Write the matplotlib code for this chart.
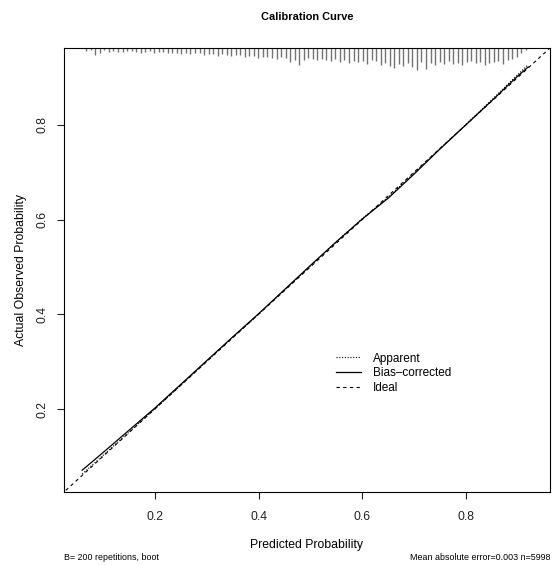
import numpy as np
import matplotlib
matplotlib.use("Agg")
import matplotlib.pyplot as plt

plt.rcParams['font.family'] = ['Liberation Sans', 'DejaVu Sans']

# calibration curves
pred = [0.06, 0.10, 0.15, 0.20, 0.25, 0.30, 0.35, 0.40, 0.45, 0.50,
        0.55, 0.60, 0.65, 0.70, 0.75, 0.80, 0.85, 0.90, 0.92]
bias_corrected = [0.071, 0.108, 0.155, 0.202, 0.252, 0.302, 0.352, 0.401, 0.452, 0.503,
                  0.553, 0.601, 0.645, 0.696, 0.749, 0.800, 0.851, 0.903, 0.922]
apparent = [0.063, 0.102, 0.151, 0.200, 0.250, 0.301, 0.351, 0.400, 0.451, 0.502,
            0.553, 0.602, 0.647, 0.698, 0.750, 0.801, 0.853, 0.906, 0.927]

# histogram spikes of predicted probabilities along the top axis
rug_lo, rug_hi = 0.068, 0.915
rug_freq = [3, 2, 7, 5, 2, 4, 3, 4, 4, 3,
            3, 4, 5, 4, 3, 5, 4, 4, 5, 5,
            5, 6, 5, 6, 5, 5, 7, 6, 6, 8,
            6, 7, 8, 7, 7, 9, 8, 8, 10, 9,
            9, 10, 11, 9, 10, 14, 12, 17, 12, 10,
            11, 12, 11, 12, 13, 11, 14, 12, 15, 13,
            14, 13, 16, 12, 13, 17, 15, 18, 20, 16,
            18, 15, 19, 22, 14, 21, 15, 17, 14, 16,
            13, 16, 15, 17, 14, 13, 15, 14, 17, 15,
            14, 13, 16, 12, 11, 9, 5, 2]

xticks = [0.2, 0.4, 0.6, 0.8]
lim = (0.025, 0.962)

fig = plt.figure(figsize=(5.52, 5.65), dpi=100)
ax = fig.add_axes([64 / 552, 73 / 565, 486 / 552, 444 / 565])

# rug spikes
rug_x = np.linspace(rug_lo, rug_hi, len(rug_freq))
spike = np.array(rug_freq) / 475.0
ax.vlines(rug_x, lim[1] - spike, lim[1], color='#727272', linewidth=1.0)

# ideal line
ax.plot([0, 1], [0, 1], linestyle=(0, (3, 3)), color='black', linewidth=0.8, label='Ideal')
ax.plot(pred, apparent, linestyle=(0, (1, 1.5)), color='black', linewidth=0.8, label='Apparent')
ax.plot(pred, bias_corrected, linestyle='-', color='black', linewidth=0.9, label='Bias-corrected')

ax.set_xlim(lim)
ax.set_ylim(lim)
ax.set_xticks(xticks)
ax.set_yticks(xticks)
ax.set_xticklabels([str(t) for t in xticks])
ax.set_yticklabels([str(t) for t in xticks], rotation=90, va='center')
ax.tick_params(direction='out', length=5, width=0.8, labelsize=8.7, colors='#222222')
ax.tick_params(axis='x', pad=8.5)
ax.tick_params(axis='y', pad=6.5)
for s in ax.spines.values():
    s.set_linewidth(0.8)

ax.set_xlabel('Predicted Probability', fontsize=8.8, labelpad=11.5)
ax.set_ylabel('Actual Observed Probability', fontsize=8.8, labelpad=6.5)
ax.set_title('Calibration Curve', fontsize=7.9, fontweight='bold', pad=20.5)

h = ax.get_legend_handles_labels()[0]
leg = ax.legend([h[1], h[2], h[0]], ['Apparent', 'Bias\u2013corrected', 'Ideal'],
                loc='upper left', bbox_to_anchor=(0.538, 0.338), frameon=False,
                fontsize=8.5, handlelength=2.1, handletextpad=1.0, labelspacing=0.22)

fig.text(64 / 552, 1 - 558 / 565, 'B= 200 repetitions, boot', fontsize=6.4, ha='left', va='center')
fig.text(551 / 552, 1 - 558 / 565, 'Mean absolute error=0.003 n=5998', fontsize=6.4,
         ha='right', va='center')

fig.savefig('out.png', dpi=100)
